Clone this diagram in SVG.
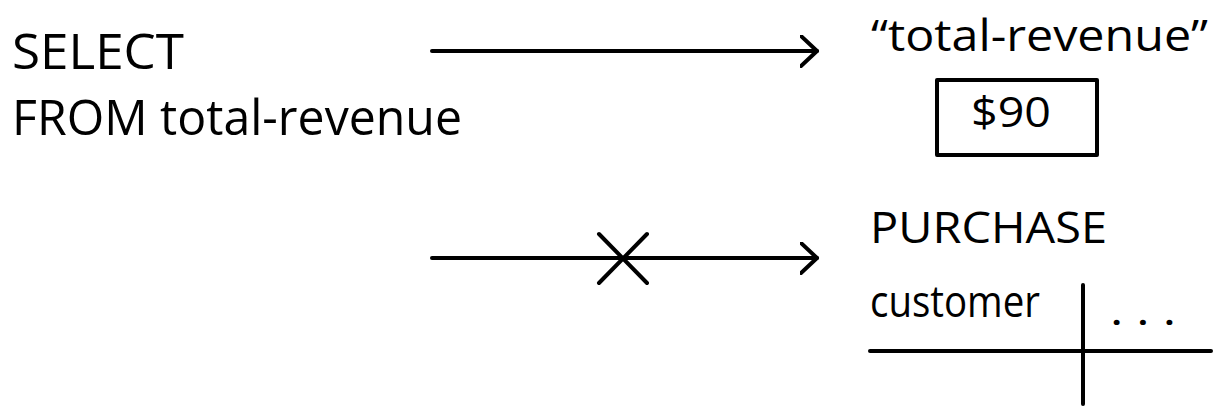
<svg xmlns="http://www.w3.org/2000/svg" width="1214" height="406" viewBox="0 0 1214 406">
  <style>
    .hand { font-family: "Open Sans", "Liberation Sans", sans-serif; fill: #000; }
    .ln { stroke: #000; stroke-width: 4; stroke-linecap: round; fill: none; }
    .box { stroke: #000; stroke-width: 4; fill: #fff; stroke-linejoin: round; }
  </style>
  <defs>
    <marker id="open-arrow" markerWidth="20" markerHeight="36" refX="17" refY="16" orient="auto" markerUnits="userSpaceOnUse">
      <path d="M1,1 L17,16 L1,31" fill="none" stroke="#000" stroke-width="4" stroke-linecap="round" stroke-linejoin="round"/>
    </marker>
  </defs>

  <!-- query text -->
  <g id="query">
    <text class="hand" x="12" y="69" font-size="50" textLength="172" lengthAdjust="spacingAndGlyphs">SELECT</text>
    <text class="hand" x="12" y="135" font-size="50" textLength="450" lengthAdjust="spacingAndGlyphs">FROM total-revenue</text>
  </g>

  <!-- stored value node -->
  <g id="value">
    <text class="hand" x="871" y="51" font-size="43" textLength="337" lengthAdjust="spacingAndGlyphs">“total-revenue”</text>
    <rect class="box" x="937" y="80" width="160" height="75"/>
    <text class="hand" x="971" y="127" font-size="42" textLength="80" lengthAdjust="spacingAndGlyphs">$90</text>
  </g>

  <!-- purchase table node -->
  <g id="purchase">
    <text class="hand" x="870" y="243" font-size="44" textLength="237" lengthAdjust="spacingAndGlyphs">PURCHASE</text>
    <text class="hand" x="870" y="317" font-size="44" textLength="170" lengthAdjust="spacingAndGlyphs">customer</text>
    <text class="hand" x="1110" y="325" font-size="40" textLength="66" lengthAdjust="spacingAndGlyphs">. . .</text>
    <line class="ln" x1="1083" y1="285" x2="1083" y2="404"/>
    <line class="ln" x1="870" y1="351" x2="1211" y2="351"/>
  </g>

  <!-- connectors -->
  <g id="connectors">
    <line class="ln" x1="432" y1="51" x2="817" y2="51" marker-end="url(#open-arrow)"/>
    <line class="ln" x1="432" y1="258" x2="817" y2="258" marker-end="url(#open-arrow)"/>
    <line class="ln" x1="599" y1="234" x2="647" y2="283"/>
    <line class="ln" x1="647" y1="234" x2="599" y2="283"/>
  </g>
</svg>
